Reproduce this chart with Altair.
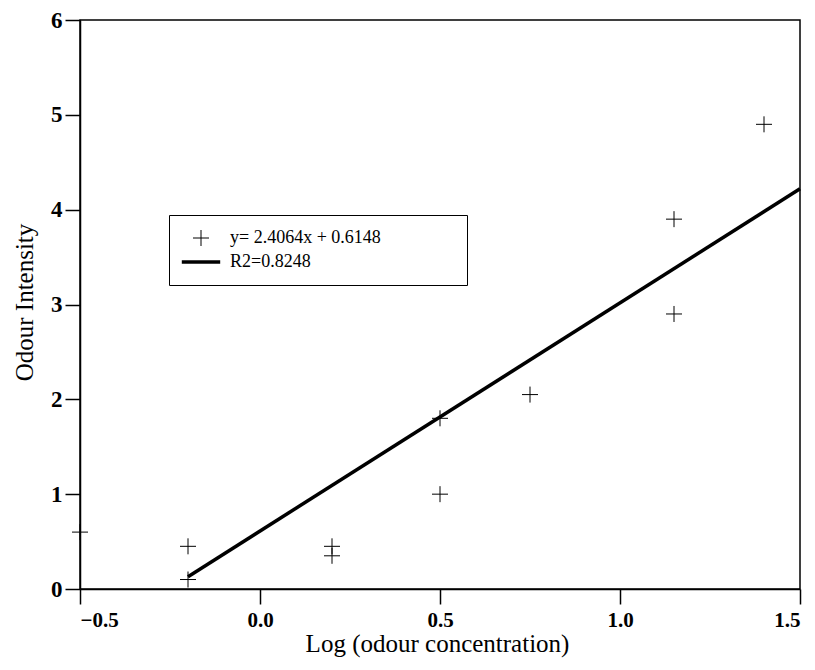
import altair as alt
import pandas as pd

pt_x = [-0.5, -0.2, -0.2, 0.2, 0.2, 0.5, 0.5, 0.75, 1.15, 1.15, 1.4]
pt_y = [0.6, 0.45, 0.1, 0.45, 0.35, 1.8, 1.0, 2.05, 3.9, 2.9, 4.9]

# fitted line end points
line_x = [-0.2, 1.5]
line_y = [0.13, 4.22]

lab_pts = "y= 2.4064x + 0.6148"
lab_line = "R2=0.8248"

x_ticks = [-0.5, 0.0, 0.5, 1.0, 1.5]
y_ticks = [0, 1, 2, 3, 4, 5, 6]

pts = pd.DataFrame({"x": pt_x, "y": pt_y, "series": [lab_pts] * len(pt_x)})
ln = pd.DataFrame({"x": line_x, "y": line_y})

SERIF = "Liberation Serif"
PLUS = "M-0.5,0H0.5M0,-0.5V0.5"
DASH = "M-1.2,0H1.2"
PAD = "\u00a0" * 16 + "\u200b"

xs = alt.Scale(domain=[-0.5, 1.5], nice=False, zero=False)
ys = alt.Scale(domain=[0, 6], nice=False, zero=False)

xaxis = alt.Axis(
    values=x_ticks, format=".1f", title="Log (odour concentration)",
    grid=False, tickSize=15, labelPadding=5,
    labelFont=SERIF, labelFontSize=21, labelFontWeight="bold", labelColor="black",
    titleFont=SERIF, titleFontSize=25, titleFontWeight="normal", titleColor="black",
    titleBaseline="alphabetic", titleX=357, titleY=62, titleAlign="center",
    domainColor="black", domainWidth=1.5, tickColor="black", tickWidth=1.5,
)
yaxis = alt.Axis(
    values=y_ticks, format="d", title="Odour Intensity",
    grid=False, tickSize=15, labelPadding=3,
    labelFont=SERIF, labelFontSize=23, labelFontWeight="bold", labelColor="black",
    titleFont=SERIF, titleFontSize=25, titleFontWeight="normal", titleColor="black",
    titleBaseline="alphabetic", titleX=-48, titleY=282, titleAlign="center", titleAngle=270,
    domainColor="black", domainWidth=1.5, tickColor="black", tickWidth=1.5,
)

points = alt.Chart(pts).mark_point(
    size=1024, filled=False, stroke="black", strokeWidth=1, opacity=1
).encode(
    x=alt.X("x:Q", scale=xs, axis=xaxis),
    y=alt.Y("y:Q", scale=ys, axis=yaxis),
    shape=alt.Shape(
        "series:N",
        scale=alt.Scale(domain=[lab_pts, lab_line], range=[PLUS, DASH]),
        legend=alt.Legend(
            title=None, orient="none", legendX=89, legendY=195,
            strokeColor="black", padding=14, rowPadding=5,
            labelFont=SERIF, labelFontSize=18, labelColor="black",
            labelOffset=20, labelLimit=400,
            labelExpr="datum.label + '" + PAD + "'",
            symbolOffset=9,
            symbolSize=1024, symbolStrokeColor="black", symbolFillColor="transparent",
            symbolStrokeWidth={"expr": "datum.value == '" + lab_line + "' ? 3.5 : 1"},
        ),
    ),
)

line = alt.Chart(ln).mark_line(color="black", strokeWidth=3.5).encode(
    x=alt.X("x:Q", scale=xs),
    y=alt.Y("y:Q", scale=ys),
)

chart = (line + points).properties(
    width=720, height=569,
    autosize=alt.AutoSizeParams(type="none"),
    padding={"left": 72, "top": 12, "right": 5, "bottom": 72},
    background="white",
).configure_view(stroke="black", strokeWidth=1.5)

chart.save("out.html", embed_options={"renderer": "svg", "actions": False})
